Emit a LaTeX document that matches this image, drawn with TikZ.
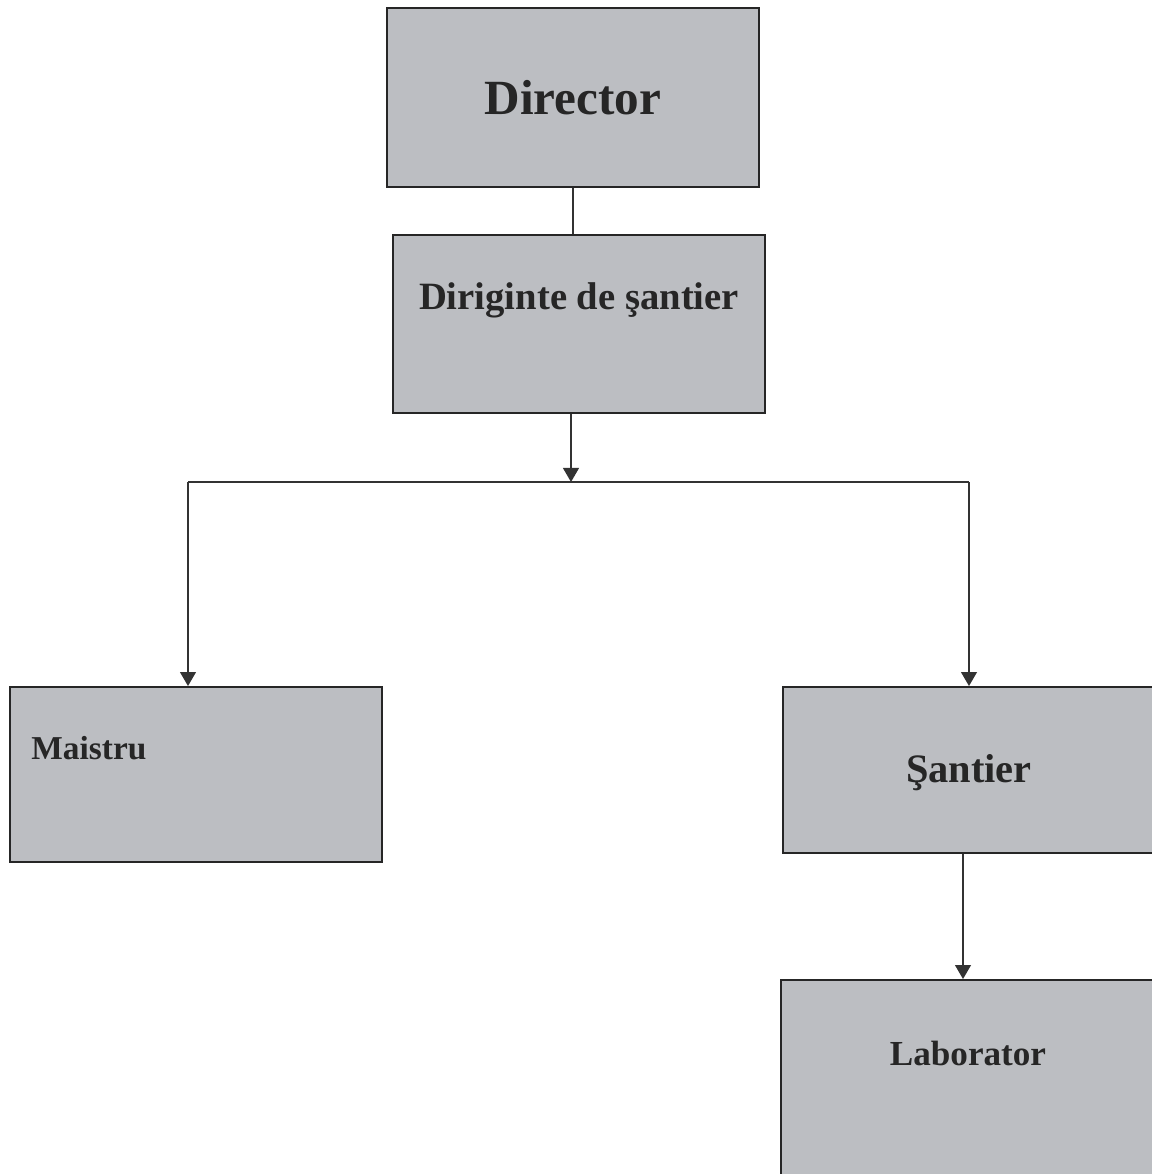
\documentclass[tikz,border=0pt]{standalone}
\usepackage{fontspec}
\setmainfont{Liberation Serif}
\usetikzlibrary{arrows.meta, positioning, calc}
\definecolor{boxgray}{RGB}{188,190,194}

\begin{document}
\begin{tikzpicture}[
    x=0.02cm, y=-0.02cm,
    box/.style={draw=black!85, line width=1.1pt, fill=boxgray, minimum width=7.44cm, inner sep=0pt},
    lbl/.style={font=\bfseries, text=black!85, inner sep=0pt},
    link/.style={line width=1pt, draw=black!80},
    arr/.style={-{Triangle[width=9pt,length=8pt]}, line width=1pt, draw=black!80, fill=black!65}
  ]
    \fill[white] (0,0) rectangle (1152,1174);
    \clip (0,0) rectangle (1152,1174);

    \node[box, minimum height=3.58cm] (dir)     at (573,97.5) {};
    \node[box, minimum height=3.56cm] (dirig)   at (579,324)  {};
    \node[box, minimum height=3.5cm]  (maistru) at (196,774.5){};
    \node[box, minimum height=3.32cm] (santier) at (969,770)  {};
    \node[box, minimum height=4.4cm]  (lab)     at (967,1090) {};

    \node[lbl, font=\bfseries\fontsize{28}{32}\selectfont] (dirtxt)   at (dir.center) {Director};
    \node[lbl, font=\bfseries\fontsize{22}{26}\selectfont] (digtxt)   at ($(dirig.center)+(0,-24)$) {Diriginte de şantier};
    \node[lbl, font=\bfseries\fontsize{19}{23}\selectfont, anchor=west] (maitxt) at ($(maistru.west)+(22,-26)$) {Maistru};
    \node[lbl, font=\bfseries\fontsize{23}{27}\selectfont] (santxt)   at ($(santier.center)+(0,3)$) {Şantier};
    \node[lbl, font=\bfseries\fontsize{20}{24}\selectfont] (labtxt)   at (968,1053) {Laborator};

    \coordinate (bus)  at (571,482);
    \coordinate (busL) at (188,482);
    \coordinate (busR) at (969,482);

    \draw[link] (dir.south) -- (dir.south |- dirig.north);
    \draw[arr] (dirig.south -| bus) -- (bus);
    \draw[link, line width=0.8pt] (busL) -- (busR);
    \draw[arr] (busL) -- (maistru.north -| busL);
    \draw[arr] (busR) -- (santier.north -| busR);
    \draw[arr] ($(santier.south)+(-6,0)$) -- ($(lab.north)+(-4,0)$);
  \end{tikzpicture}
\end{document}
